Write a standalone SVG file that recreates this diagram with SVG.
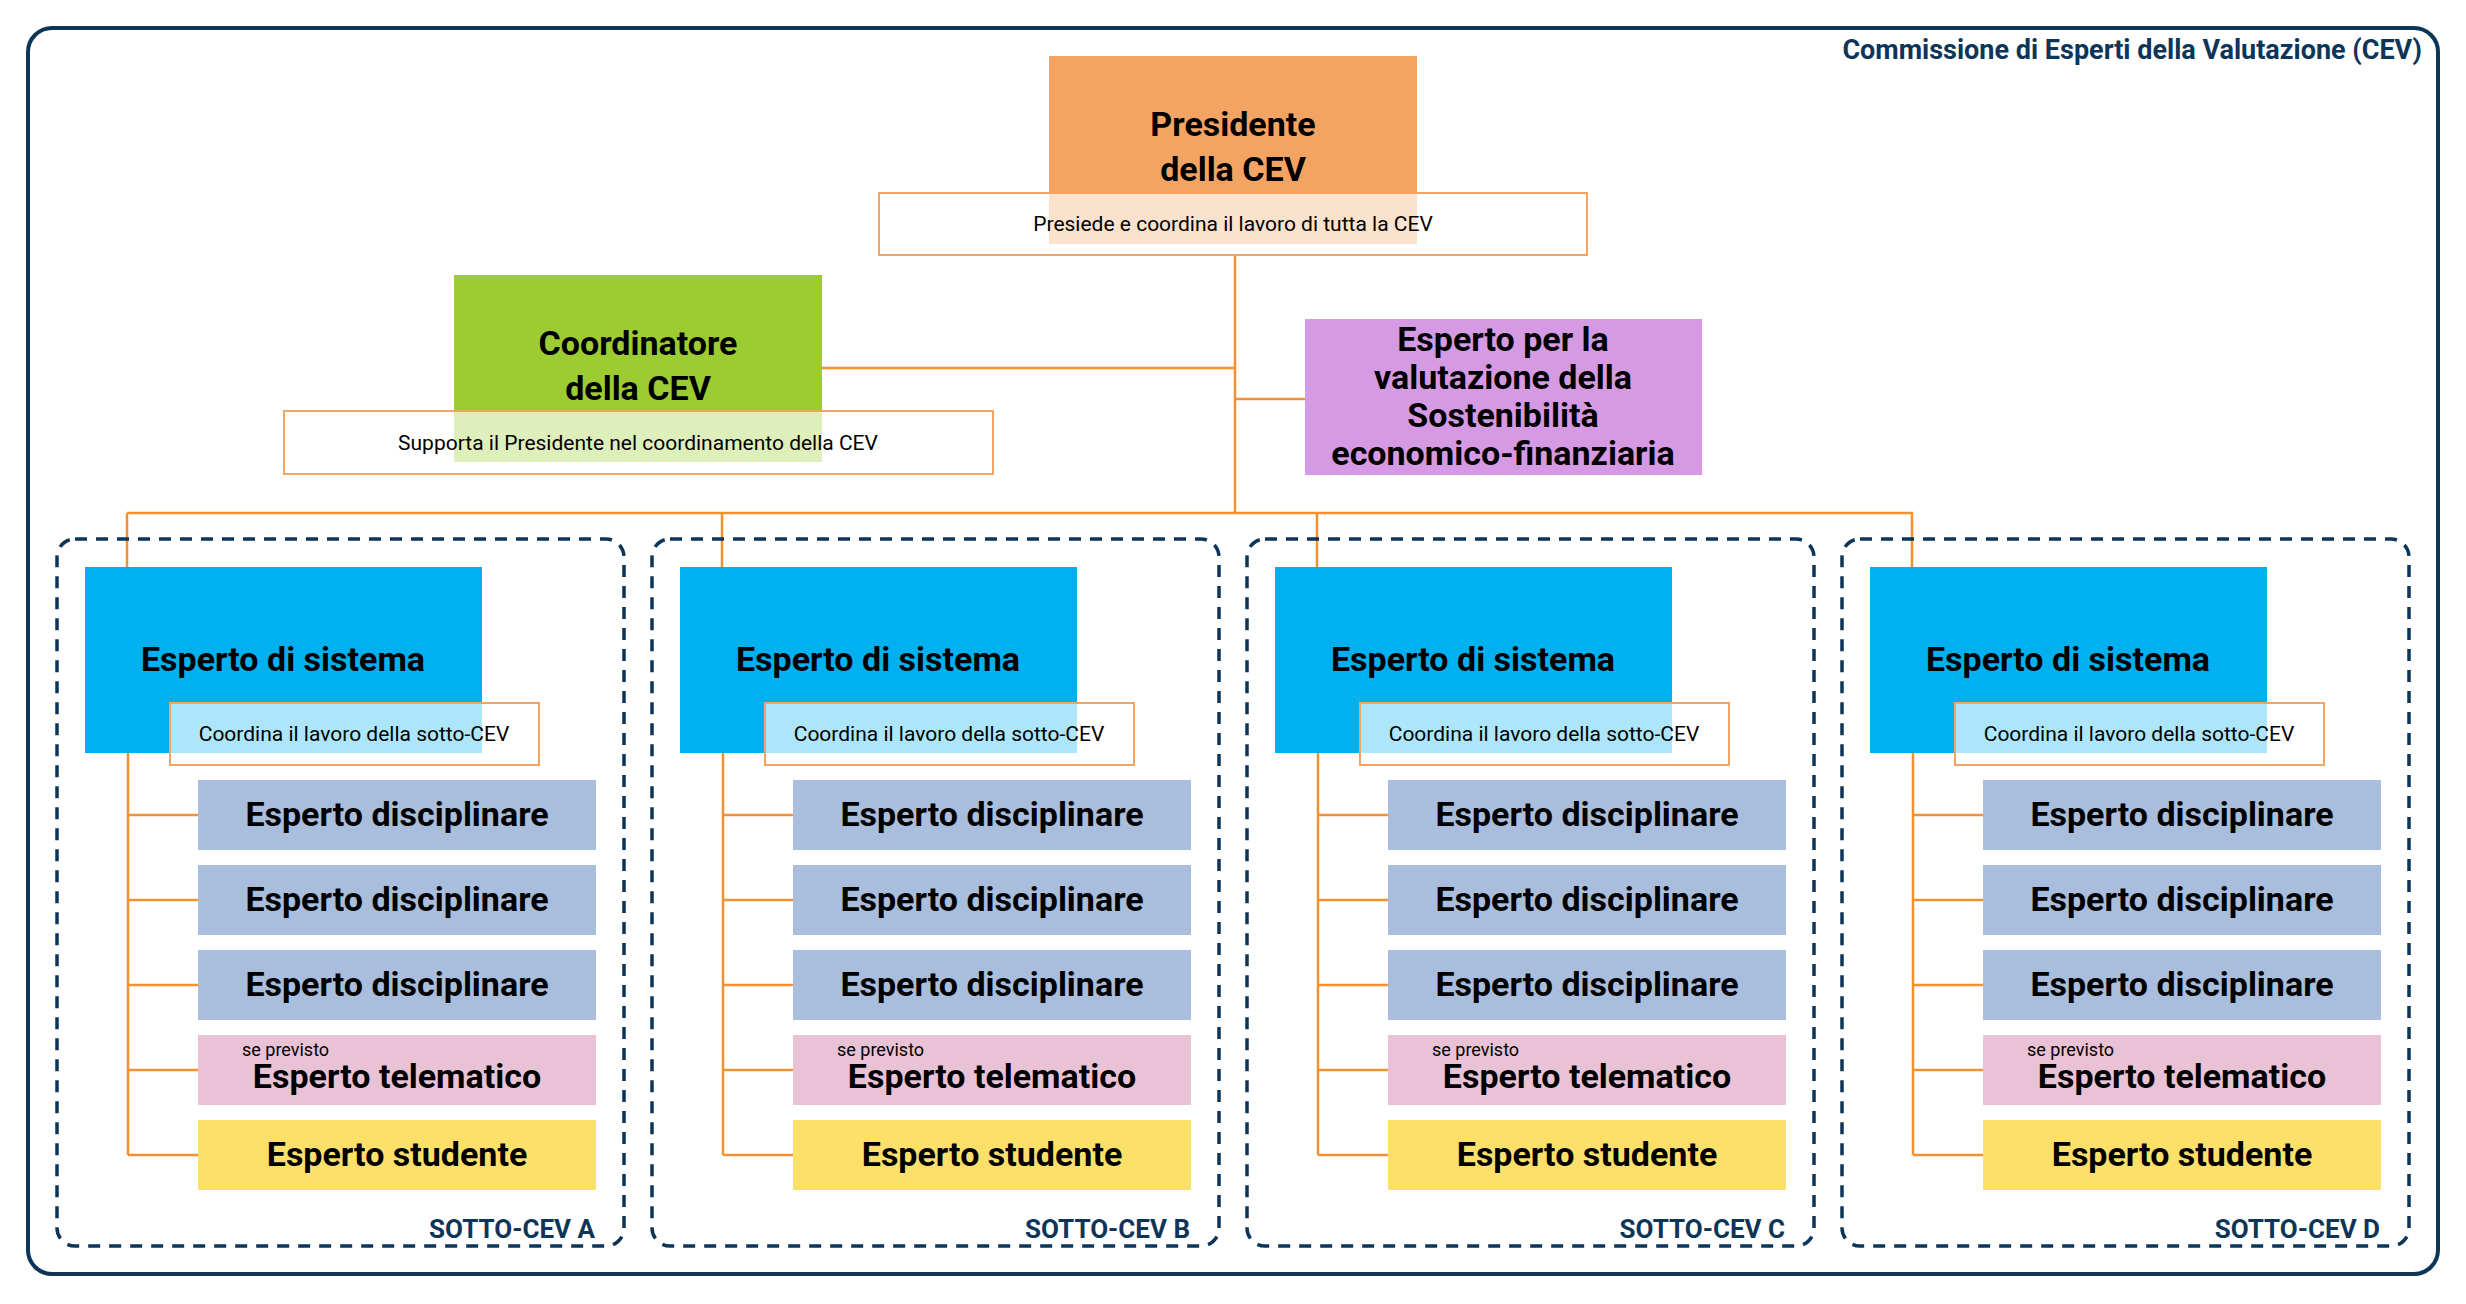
<svg xmlns="http://www.w3.org/2000/svg" width="2466" height="1304" viewBox="0 0 2466 1304">
<style>
text{font-family:Roboto,"Liberation Sans",sans-serif;fill:#000}
.b{font-weight:bold;text-anchor:middle}
.big{font-size:34px}
.row{font-size:34px}
.desc{font-size:21px;text-anchor:middle}
.dbox{fill:#fff;fill-opacity:0.68;stroke:#f3a462;stroke-width:2}
.ln{stroke:#f39130;stroke-width:2.5;fill:none}
.dash{fill:none;stroke:#0d3558;stroke-width:3.5;stroke-dasharray:12 9}
.navy{fill:#0d3558;font-weight:bold}
.dis{fill:#a9bddc}.tel{fill:#eac2d5}.stu{fill:#fde06a}.sys{fill:#00b0ef}
</style>
<rect x="0" y="0" width="2466" height="1304" fill="#fff"/>
<rect x="28" y="28" width="2410" height="1246" rx="24" fill="none" stroke="#0d3558" stroke-width="4"/>
<text class="navy" x="2422" y="59" font-size="27" text-anchor="end">Commissione di Esperti della Valutazione (CEV)</text>
<g id="connectors">
<path class="ln" d="M1235 255V513M822 368H1235M1235 399H1305M127 513H1913M127 513V567M722 513V567M1317 513V567M1912 513V567"/>
</g>
<g id="presidente">
<rect x="1049" y="56" width="368" height="188" fill="#f3a462"/>
<text class="b big" x="1233" y="136">Presidente</text>
<text class="b big" x="1233" y="181">della CEV</text>
<rect class="dbox" x="879" y="193" width="708" height="62"/>
<text class="desc" x="1233" y="231">Presiede e coordina il lavoro di tutta la CEV</text>
</g>
<g id="coordinatore">
<rect x="454" y="275" width="368" height="187" fill="#9ccc31"/>
<text class="b big" x="638" y="355">Coordinatore</text>
<text class="b big" x="638" y="400">della CEV</text>
<rect class="dbox" x="284" y="411" width="709" height="63"/>
<text class="desc" x="638" y="450">Supporta il Presidente nel coordinamento della CEV</text>
</g>
<g id="sostenibilita">
<rect x="1305" y="319" width="397" height="156" fill="#d59ae3"/>
<text class="b big" x="1503" y="351">Esperto per la</text>
<text class="b big" x="1503" y="389">valutazione della</text>
<text class="b big" x="1503" y="427">Sostenibilità</text>
<text class="b big" x="1503" y="465">economico-finanziaria</text>
</g>
<defs>
<g id="sub">
<rect class="dash" x="57" y="539" width="567" height="707" rx="18"/>
<path class="ln" d="M128 753V1155M128 815H198M128 900H198M128 985H198M128 1070H198M128 1155H198"/>
<rect class="sys" x="85" y="567" width="397" height="186"/>
<text class="b big" x="283" y="671">Esperto di sistema</text>
<rect class="dbox" x="170" y="703" width="369" height="62"/>
<text class="desc" x="354" y="741">Coordina il lavoro della sotto-CEV</text>
<rect class="dis" x="198" y="780" width="398" height="70"/>
<text class="b row" x="397" y="826">Esperto disciplinare</text>
<rect class="dis" x="198" y="865" width="398" height="70"/>
<text class="b row" x="397" y="911">Esperto disciplinare</text>
<rect class="dis" x="198" y="950" width="398" height="70"/>
<text class="b row" x="397" y="996">Esperto disciplinare</text>
<rect class="tel" x="198" y="1035" width="398" height="70"/>
<text x="242" y="1056" font-size="18">se previsto</text>
<text class="b row" x="397" y="1088">Esperto telematico</text>
<rect class="stu" x="198" y="1120" width="398" height="70"/>
<text class="b row" x="397" y="1166">Esperto studente</text>
</g>
</defs>
<g id="sotto-cev-a"><use href="#sub"/><text class="navy" x="595" y="1238" font-size="26" text-anchor="end">SOTTO-CEV A</text></g>
<g id="sotto-cev-b"><use href="#sub" x="595"/><text class="navy" x="1190" y="1238" font-size="26" text-anchor="end">SOTTO-CEV B</text></g>
<g id="sotto-cev-c"><use href="#sub" x="1190"/><text class="navy" x="1785" y="1238" font-size="26" text-anchor="end">SOTTO-CEV C</text></g>
<g id="sotto-cev-d"><use href="#sub" x="1785"/><text class="navy" x="2380" y="1238" font-size="26" text-anchor="end">SOTTO-CEV D</text></g>
</svg>
